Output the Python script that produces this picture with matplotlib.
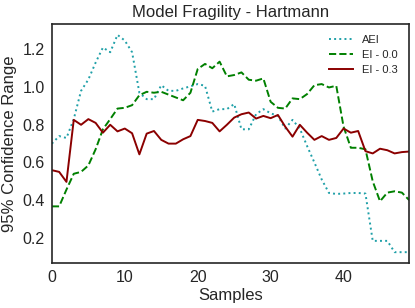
import matplotlib
matplotlib.use("Agg")
import matplotlib.pyplot as plt
import numpy as np

plt.rcParams['font.family'] = ['Liberation Sans', 'DejaVu Sans']

samples = list(range(50))
aei = [0.70, 0.74, 0.73, 0.83, 0.98, 1.04, 1.13, 1.21, 1.185, 1.277,
       1.247, 1.185, 0.97, 0.936, 0.936, 1.01, 0.98, 0.98, 0.993, 1.004,
       1.016, 1.007, 0.87, 0.883, 0.883, 0.91, 0.776, 0.776, 0.856, 0.883,
       0.861, 0.847, 0.78, 0.826, 0.78, 0.687, 0.60, 0.51, 0.438, 0.433,
       0.435, 0.438, 0.438, 0.435, 0.184, 0.184, 0.184, 0.124, 0.124, 0.124]
ei00 = [0.367, 0.367, 0.456, 0.54, 0.55, 0.584, 0.67, 0.776, 0.83, 0.886,
        0.89, 0.904, 0.957, 0.975, 0.97, 0.975, 0.96, 0.945, 0.93, 0.97,
        1.096, 1.123, 1.10, 1.135, 1.057, 1.064, 1.078, 1.039, 1.034, 1.046,
        0.922, 0.89, 0.886, 0.94, 0.936, 0.963, 1.01, 1.016, 0.998, 1.007,
        0.79, 0.678, 0.678, 0.67, 0.50, 0.394, 0.44, 0.447, 0.44, 0.40]
ei03 = [0.559, 0.55, 0.497, 0.826, 0.80, 0.83, 0.81, 0.758, 0.80, 0.765,
        0.78, 0.755, 0.643, 0.753, 0.767, 0.72, 0.70, 0.70, 0.723, 0.74,
        0.826, 0.82, 0.81, 0.765, 0.80, 0.838, 0.856, 0.865, 0.833, 0.847,
        0.835, 0.852, 0.79, 0.737, 0.80, 0.758, 0.72, 0.74, 0.72, 0.73,
        0.78, 0.758, 0.767, 0.66, 0.648, 0.673, 0.665, 0.648, 0.655, 0.658]

fig = plt.figure(figsize=(4.15, 3.08), dpi=100)
ax = fig.add_axes([0.125, 0.146, 0.861, 0.776])

ax.plot(samples, aei, linestyle=':', color='#1fa0a8', lw=1.4, label='AEI')
ax.plot(samples, ei00, linestyle='--', color='#008000', lw=1.4, label='EI - 0.0')
ax.plot(samples, ei03, linestyle='-', color='#8b0000', lw=1.4, label='EI - 0.3')

ax.set_xlim(0, 49)
ax.margins(y=0.05)
ax.set_xticks([0, 10, 20, 30, 40])
ax.set_yticks([0.2, 0.4, 0.6, 0.8, 1.0, 1.2])
ax.tick_params(length=0, labelsize=11.5, colors='#262626', pad=5)
for s in ax.spines.values():
    s.set_color('#262626')
    s.set_linewidth(1.2)
ax.set_xlabel('Samples', fontsize=12, color='#262626', labelpad=2)
ax.set_ylabel('95% Confidence Range', fontsize=12, color='#262626')
ax.set_title('Model Fragility - Hartmann', fontsize=12, color='#262626', pad=5)
leg = ax.legend(loc='upper right', frameon=False, fontsize=8,
                handlelength=2.2, handletextpad=0.8, labelspacing=0.45,
                borderaxespad=0.6)
for t in leg.get_texts():
    t.set_color('#262626')

fig.savefig('out.png', dpi=100)
